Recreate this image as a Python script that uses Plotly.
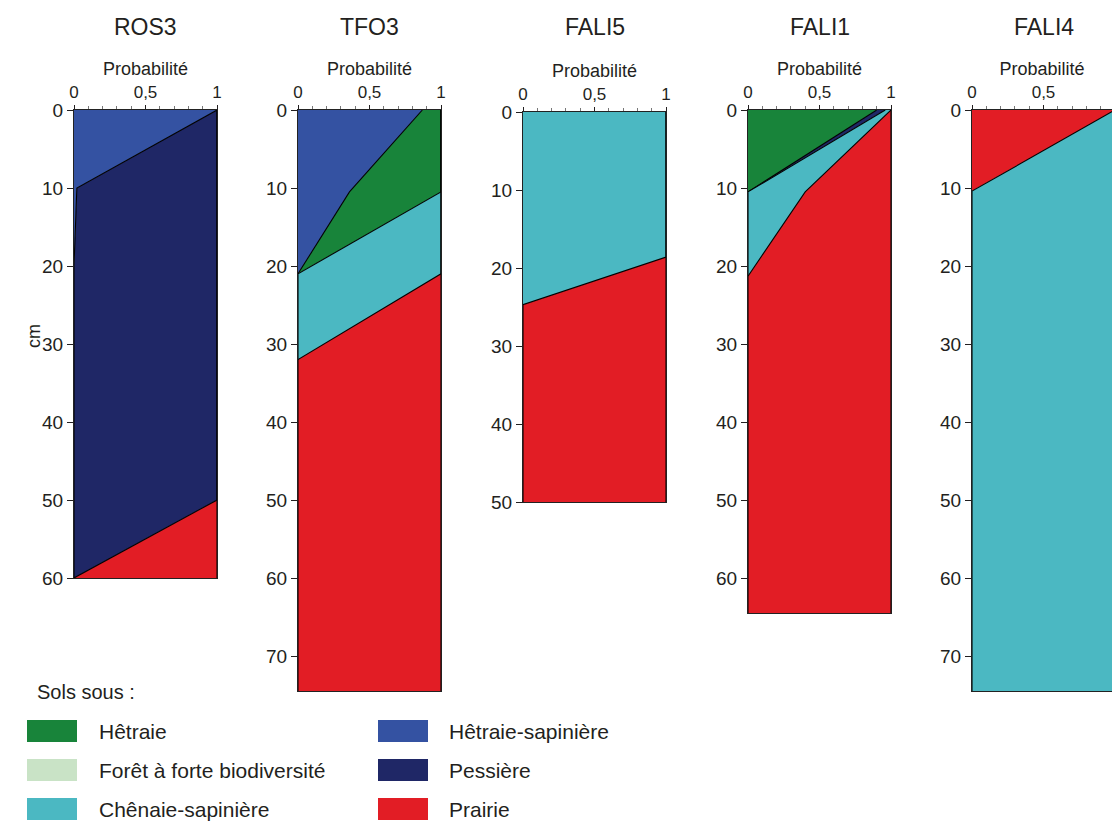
import plotly.graph_objects as go

# ---------------- data ----------------
class_names = ["Hêtraie", "Forêt à forte biodiversité", "Chênaie-sapinière",
               "Hêtraie-sapinière", "Pessière", "Prairie"]
class_colors = ["#18843a", "#c9e3c6", "#4bb8c2", "#3452a2", "#1f2766", "#e21d25"]

panel_names = ["ROS3", "TFO3", "FALI5", "FALI1", "FALI4"]

# depth (cm) and probability of each soil class at that depth (left-to-right stack order)
ros3_depth = [0, 10, 20, 50, 60]
ros3_classes = ["Hêtraie-sapinière", "Pessière", "Prairie"]
ros3_values = [[1.00, 0.02, 0.00, 0.00, 0.00],
               [0.00, 0.98, 1.00, 1.00, 0.00],
               [0.00, 0.00, 0.00, 0.00, 1.00]]

tfo3_depth = [0, 10.5, 21, 32, 74.5]
tfo3_classes = ["Hêtraie-sapinière", "Hêtraie", "Chênaie-sapinière", "Prairie"]
tfo3_values = [[0.87, 0.36, 0.00, 0.00, 0.00],
               [0.13, 0.64, 0.00, 0.00, 0.00],
               [0.00, 0.00, 1.00, 0.00, 0.00],
               [0.00, 0.00, 0.00, 1.00, 1.00]]

fali5_depth = [0, 18.6, 24.7, 50]
fali5_classes = ["Chênaie-sapinière", "Prairie"]
fali5_values = [[1.00, 1.00, 0.00, 0.00],
                [0.00, 0.00, 1.00, 1.00]]

fali1_depth = [0, 10.5, 21.3, 64.5]
fali1_classes = ["Hêtraie", "Pessière", "Chênaie-sapinière", "Prairie"]
fali1_values = [[0.90, 0.00, 0.00, 0.00],
                [0.06, 0.00, 0.00, 0.00],
                [0.04, 0.40, 0.00, 0.00],
                [0.00, 0.60, 1.00, 1.00]]

fali4_depth = [0, 10.4, 74.5]
fali4_classes = ["Prairie", "Chênaie-sapinière"]
fali4_values = [[1.00, 0.00, 0.00],
                [0.00, 1.00, 1.00]]

x_tick_vals = [0, 0.5, 1]
x_tick_text = ["0", "0,5", "1"]

panels = [
    (ros3_depth, ros3_classes, ros3_values),
    (tfo3_depth, tfo3_classes, tfo3_values),
    (fali5_depth, fali5_classes, fali5_values),
    (fali1_depth, fali1_classes, fali1_values),
    (fali4_depth, fali4_classes, fali4_values),
]

# ---------------- layout geometry (pixels) ----------------
W, H = 1112, 821
PX_PER_CM = 7.8
PANEL_W = 143.0
panel_px = [  # left, top
    (74, 110),
    (298, 110),
    (523, 112),
    (748, 110),
    (972, 110),
]
TXT = "#231f20"
FONT = "Liberation Sans"

color_of = dict(zip(class_names, class_colors))

fig = go.Figure()
layout = {}
annotations = []
shapes = []

for i, ((depth, cls, vals), (l, t)) in enumerate(zip(panels, panel_px)):
    n = i + 1
    xa = "x" if n == 1 else f"x{n}"
    ya = "y" if n == 1 else f"y{n}"
    dmax = max(depth)
    bottom = t + dmax * PX_PER_CM
    r = min(l + PANEL_W, W)
    xmax = (r - l) / PANEL_W
    for c, v in zip(cls, vals):
        fig.add_trace(go.Scatter(
            x=v, y=depth, xaxis=xa, yaxis=ya,
            stackgroup=f"g{n}", orientation="h",
            mode="lines", line=dict(color="black", width=1.1),
            fillcolor=color_of[c], name=c, showlegend=False,
            hoverinfo="skip"))
    layout[f"xaxis{'' if n == 1 else n}"] = dict(
        domain=[l / W, r / W], anchor=ya, side="top", automargin=False,
        range=[0, xmax], tickvals=x_tick_vals, ticktext=x_tick_text,
        ticks="outside", ticklen=4, tickcolor=TXT,
        minor=dict(dtick=0.1, ticks="outside", ticklen=3, tickcolor="#777"),
        showline=True, mirror=True, linecolor="#222", linewidth=1,
        showgrid=False, zeroline=False,
        tickfont=dict(family=FONT, size=17, color=TXT),
        title=dict(text="Probabilité", font=dict(family=FONT, size=18, color=TXT), standoff=2),
        fixedrange=True)
    layout[f"yaxis{'' if n == 1 else n}"] = dict(
        domain=[1 - bottom / H, 1 - t / H], anchor=xa, automargin=False,
        range=[dmax, 0], tickvals=list(range(0, int(dmax) + 1, 10)),
        ticks="outside", ticklen=6, tickcolor=TXT,
        showline=True, mirror=True, linecolor="#222", linewidth=1,
        showgrid=False, zeroline=False,
        tickfont=dict(family=FONT, size=19, color=TXT),
        fixedrange=True)
    annotations.append(dict(
        text=panel_names[i], xref="paper", yref="paper",
        x=(l + PANEL_W / 2) / W, y=1 - 27 / H,
        showarrow=False, font=dict(family=FONT, size=23, color=TXT),
        xanchor="center", yanchor="middle"))

# y axis title
annotations.append(dict(text="cm", xref="paper", yref="paper", x=22 / W, y=1 - 336 / H,
                        textangle=-90, showarrow=False,
                        font=dict(family=FONT, size=18, color=TXT)))

# legend
annotations.append(dict(text="Sols sous :", xref="paper", yref="paper", x=35 / W, y=1 - 692 / H,
                        xanchor="left", yanchor="middle", showarrow=False,
                        font=dict(family=FONT, size=20, color=TXT)))
col_x = [(27, 77, 97), (378, 428, 447)]
row_y = [731, 770, 809]
for k, (name, col) in enumerate(zip(class_names, class_colors)):
    cx0, cx1, tx = col_x[k // 3]
    cy = row_y[k % 3]
    shapes.append(dict(type="rect", xref="paper", yref="paper",
                       x0=cx0 / W, x1=cx1 / W, y0=1 - (cy + 11) / H, y1=1 - (cy - 11) / H,
                       fillcolor=col, line=dict(width=0)))
    annotations.append(dict(text=name, xref="paper", yref="paper", x=tx / W, y=1 - cy / H,
                            xanchor="left", yanchor="middle", showarrow=False,
                            font=dict(family=FONT, size=21, color=TXT)))

fig.update_layout(
    width=W, height=H,
    margin=dict(l=0, r=0, t=0, b=0, autoexpand=False),
    paper_bgcolor="white", plot_bgcolor="white",
    showlegend=False,
    annotations=annotations, shapes=shapes,
    font=dict(family=FONT, color=TXT),
    **layout)

fig.write_html("out.html", config={"displayModeBar": False},
               post_script="document.body.style.margin='0';document.body.style.overflow='hidden';")
